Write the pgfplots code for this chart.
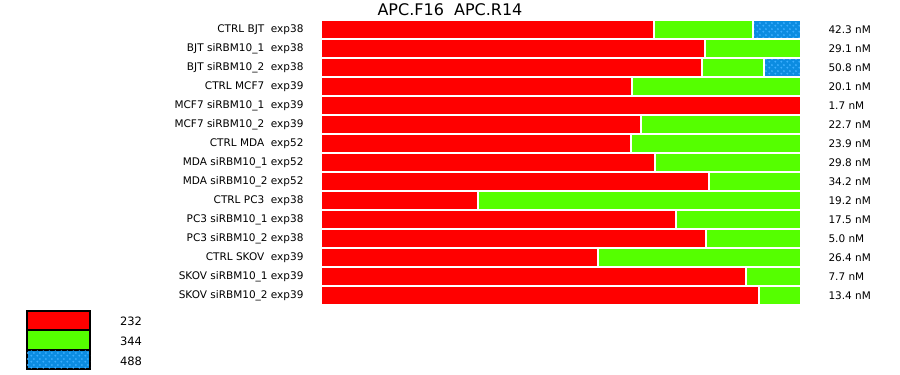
\documentclass[border=0pt]{standalone}
\usepackage{pgfplots}
\pgfplotsset{compat=1.18}
\usepackage{fontspec}
\setmainfont{DejaVu Sans}
\usetikzlibrary{patterns}
\definecolor{cRed}{RGB}{255,0,0}
\definecolor{cGreen}{RGB}{85,255,0}
\definecolor{cBlue}{RGB}{12,140,225}
\definecolor{cDot}{RGB}{60,175,255}
\pgfdeclarepatternformonly{bigdots}{\pgfqpoint{0pt}{0pt}}{\pgfqpoint{6pt}{6pt}}{\pgfqpoint{6pt}{6pt}}{%
  \pgfpathcircle{\pgfqpoint{1.5pt}{1.5pt}}{1.2pt}%
  \pgfpathcircle{\pgfqpoint{4.5pt}{4.5pt}}{1.2pt}%
  \pgfusepath{fill}}
\begin{document}
\begin{tikzpicture}
\useasboundingbox (0pt,0pt) rectangle (900pt,-375pt);
\pgfplotstableread{
y r g b
0  69.4 20.6 10.0
1  80.0 20.0 0
2  79.4 12.9 7.7
3  64.8 35.2 0
4  100  0    0
5  66.7 33.3 0
6  64.6 35.4 0
7  69.6 30.4 0
8  80.8 19.2 0
9  32.7 67.3 0
10 74.0 26.0 0
11 80.2 19.8 0
12 57.7 42.3 0
13 88.5 11.5 0
14 91.25 8.75 0
}\datatable
\begin{axis}[
  at={(321pt,-20pt)}, anchor=north west,
  width=480pt, height=285pt, scale only axis,
  xmin=0, xmax=100, ymin=-0.5, ymax=14.5, y dir=reverse,
  xbar stacked, bar width=19pt,
  axis line style={draw=none}, major tick length=0pt,
  xtick=\empty, ytick={0,...,14},
  yticklabels={{CTRL BJT\ \ exp38},{BJT siRBM10\_1\ \ exp38},{BJT siRBM10\_2\ \ exp38},{CTRL MCF7\ \ exp39},{MCF7 siRBM10\_1\ \ exp39},{MCF7 siRBM10\_2\ \ exp39},{CTRL MDA\ \ exp52},{MDA siRBM10\_1 exp52},{MDA siRBM10\_2 exp52},{CTRL PC3\ \ exp38},{PC3 siRBM10\_1 exp38},{PC3 siRBM10\_2 exp38},{CTRL SKOV\ \ exp39},{SKOV siRBM10\_1 exp39},{SKOV siRBM10\_2 exp39}},
  yticklabel style={font=\fontsize{10.5}{12}\selectfont, anchor=east, xshift=-14pt},
  clip=false,
]
\addplot[fill=cRed, draw=white, line width=1.5pt] table[x=r,y=y]{\datatable};
\addplot[fill=cGreen, draw=white, line width=1.5pt] table[x=g,y=y]{\datatable};
\addplot[fill=cBlue, draw=white, line width=1.5pt, postaction={pattern=bigdots, pattern color=cDot}] table[x=b,y=y]{\datatable};
\end{axis}
\begin{axis}[
  at={(321pt,-20pt)}, anchor=north west,
  width=480pt, height=285pt, scale only axis,
  xmin=0, xmax=100, ymin=-0.5, ymax=14.5, y dir=reverse,
  axis line style={draw=none}, major tick length=0pt,
  xtick=\empty, ytick={0,...,14}, yticklabel pos=right,
  yticklabels={42.3 nM,29.1 nM,50.8 nM,20.1 nM,1.7 nM,22.7 nM,23.9 nM,29.8 nM,34.2 nM,19.2 nM,17.5 nM,5.0 nM,26.4 nM,7.7 nM,13.4 nM},
  yticklabel style={font=\fontsize{10.5}{12}\selectfont, anchor=west, xshift=24pt},
]
\addplot[draw=none] coordinates {(0,0)};
\end{axis}
\node[font=\fontsize{16}{18}\selectfont] at (450pt,-10pt) {APC.F16\ \ APC.R14};
\draw[black, line width=1.5pt, fill=cRed] (27pt,-311pt) rectangle (90pt,-330pt);
\draw[black, line width=1.5pt, fill=cGreen] (27pt,-330pt) rectangle (90pt,-350pt);
\draw[black, line width=1.5pt, fill=cBlue, postaction={pattern=bigdots, pattern color=cDot}] (27pt,-350pt) rectangle (90pt,-369pt);
\node[font=\fontsize{11.5}{13}\selectfont] at (131pt,-321pt) {232};
\node[font=\fontsize{11.5}{13}\selectfont] at (131pt,-341pt) {344};
\node[font=\fontsize{11.5}{13}\selectfont] at (131pt,-361pt) {488};
\end{tikzpicture}
\end{document}
